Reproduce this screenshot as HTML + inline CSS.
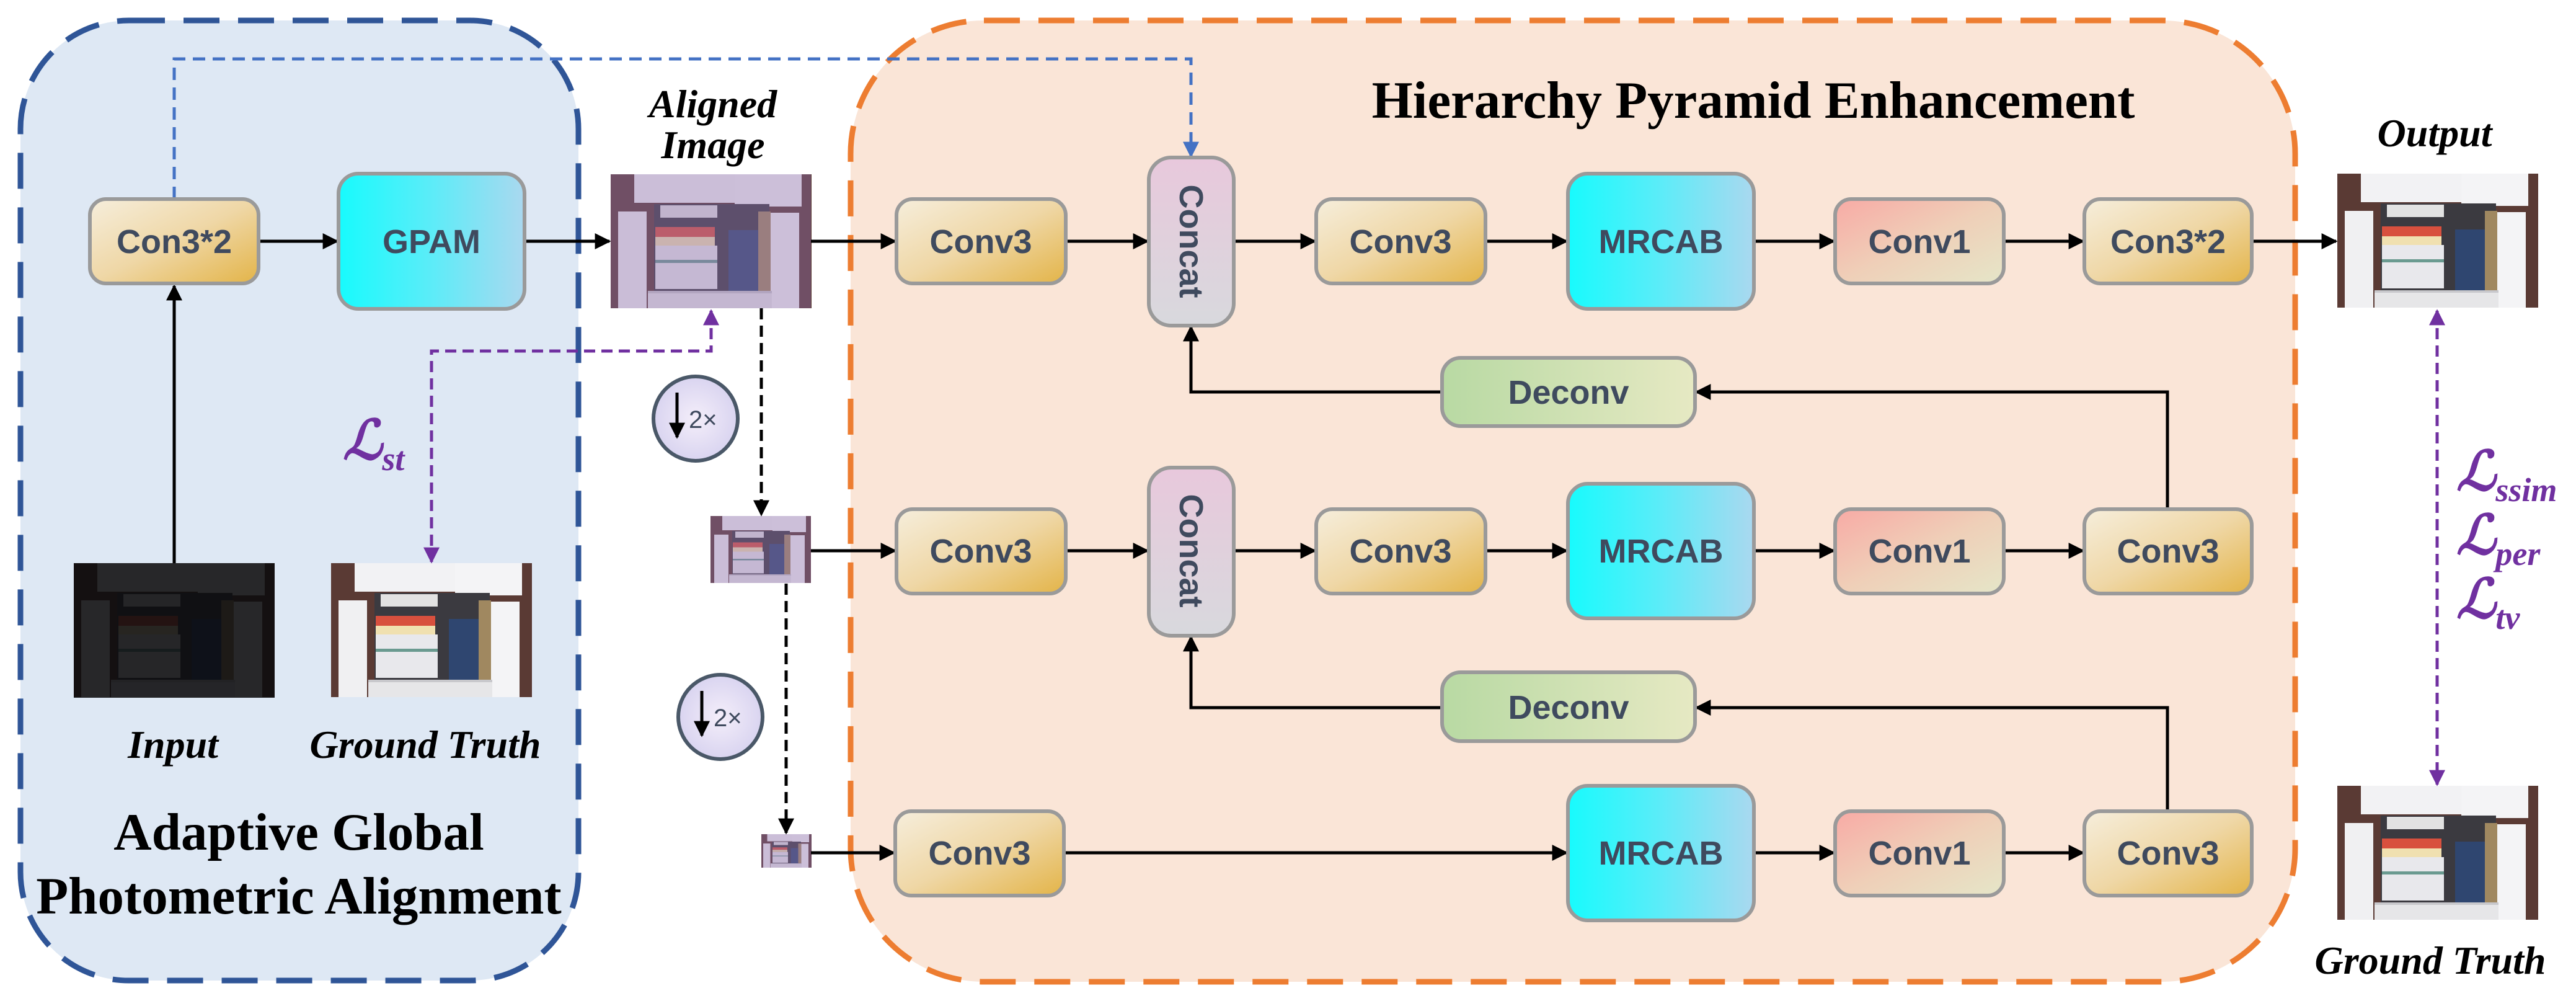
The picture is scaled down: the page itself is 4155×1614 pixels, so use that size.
<!DOCTYPE html>
<html><head><meta charset="utf-8"><style>html,body{margin:0;padding:0;background:#fff}svg{display:block}</style></head>
<body>
<svg width="4155" height="1614" viewBox="0 0 4155 1614" xmlns="http://www.w3.org/2000/svg">
<defs>
<linearGradient id="gold" x1="0" y1="0" x2="1" y2="1"><stop offset="0" stop-color="#f6eedc"/><stop offset="0.5" stop-color="#efd7a6"/><stop offset="1" stop-color="#e3b448"/></linearGradient>
<linearGradient id="cyan" x1="0" y1="0" x2="1" y2="0"><stop offset="0" stop-color="#17fbfd"/><stop offset="0.5" stop-color="#5cecf8"/><stop offset="1" stop-color="#aad8ef"/></linearGradient>
<linearGradient id="pink" x1="0" y1="0" x2="1" y2="1"><stop offset="0" stop-color="#f8aaa5"/><stop offset="0.5" stop-color="#efcfb8"/><stop offset="1" stop-color="#e5e6c8"/></linearGradient>
<linearGradient id="green" x1="0" y1="0" x2="1" y2="0"><stop offset="0" stop-color="#b8d9a3"/><stop offset="1" stop-color="#e6e9c3"/></linearGradient>
<linearGradient id="lav" x1="0" y1="0" x2="0" y2="1"><stop offset="0" stop-color="#e8c8dc"/><stop offset="1" stop-color="#d8d9dd"/></linearGradient>
<radialGradient id="circ"><stop offset="0" stop-color="#f4eefa"/><stop offset="1" stop-color="#d9d4f0"/></radialGradient>
<marker id="a" viewBox="0 0 10 10" refX="9" refY="5" markerWidth="30" markerHeight="26" orient="auto" markerUnits="userSpaceOnUse"><path d="M0,0 L10,5 L0,10 z" fill="#000"/></marker>
<marker id="ap" viewBox="0 0 10 10" refX="9" refY="5" markerWidth="28" markerHeight="26" orient="auto-start-reverse" markerUnits="userSpaceOnUse"><path d="M0,0 L10,5 L0,10 z" fill="#7030a0"/></marker>
<marker id="abl" viewBox="0 0 10 10" refX="9" refY="5" markerWidth="28" markerHeight="26" orient="auto" markerUnits="userSpaceOnUse"><path d="M0,0 L10,5 L0,10 z" fill="#4472c4"/></marker>
<g id="cab">
<rect x="0" y="0" width="324" height="216" fill="#5a3a34"/>
<rect x="38" y="0" width="270" height="46" fill="#f2f2f4"/>
<rect x="200" y="0" width="108" height="52" fill="#f4f4f6"/>
<rect x="12" y="60" width="46" height="156" fill="#f0f0f2"/>
<rect x="258" y="62" width="46" height="154" fill="#f4f4f6"/>
<rect x="70" y="48" width="186" height="150" fill="#3b3a40"/>
<rect x="72" y="85" width="96" height="16" fill="#d8503e"/>
<rect x="72" y="101" width="96" height="14" fill="#f0e0b0"/>
<rect x="72" y="115" width="100" height="70" fill="#e8e8ec"/>
<rect x="72" y="138" width="100" height="5" fill="#6a9a90"/>
<rect x="190" y="90" width="48" height="100" fill="#2f4670"/>
<rect x="238" y="60" width="20" height="130" fill="#a08860"/>
<rect x="80" y="50" width="92" height="20" fill="#e2e2e2"/>
<rect x="60" y="190" width="200" height="26" fill="#e6e6e8"/>
<rect x="60" y="188" width="200" height="4" fill="#c8c8cc"/>
</g>
</defs>

<rect x="33" y="33" width="900" height="1548" rx="175" fill="#dee8f4" stroke="#2f5597" stroke-width="9" stroke-dasharray="58 30"/>
<rect x="1372" y="33" width="2330" height="1550" rx="215" fill="#fae5d7" stroke="#ed7d31" stroke-width="9" stroke-dasharray="58 30"/>

<use href="#cab" x="985" y="281"/>
<rect x="985" y="281" width="323" height="216" fill="#9070b0" opacity="0.4"/>
<use href="#cab" x="119" y="908"/>
<rect x="119" y="908" width="324" height="217" fill="#0a0a0c" opacity="0.88"/>
<use href="#cab" x="534" y="908"/>
<use href="#cab" x="3770" y="280"/>
<use href="#cab" x="3770" y="1267"/>
<g transform="translate(1146,832) scale(0.5)"><use href="#cab"/><rect width="324" height="216" fill="#9070b0" opacity="0.4"/></g>
<g transform="translate(1228,1345) scale(0.25)"><use href="#cab"/><rect width="324" height="216" fill="#9070b0" opacity="0.4"/></g>

<g stroke="#000" stroke-width="5" fill="none">
<line x1="281" y1="908" x2="281" y2="461" marker-end="url(#a)"/>
<line x1="417" y1="389" x2="544" y2="389" marker-end="url(#a)"/>
<line x1="846" y1="389" x2="983" y2="389" marker-end="url(#a)"/>
<line x1="1308" y1="389" x2="1444" y2="389" marker-end="url(#a)"/>
<line x1="1719" y1="389" x2="1851" y2="389" marker-end="url(#a)"/>
<line x1="1990" y1="389" x2="2121" y2="389" marker-end="url(#a)"/>
<line x1="2396" y1="389" x2="2527" y2="389" marker-end="url(#a)"/>
<line x1="2829" y1="389" x2="2958" y2="389" marker-end="url(#a)"/>
<line x1="3232" y1="389" x2="3360" y2="389" marker-end="url(#a)"/>
<line x1="3632" y1="389" x2="3768" y2="389" marker-end="url(#a)"/>

<line x1="1308" y1="888" x2="1444" y2="888" marker-end="url(#a)"/>
<line x1="1719" y1="888" x2="1851" y2="888" marker-end="url(#a)"/>
<line x1="1990" y1="888" x2="2121" y2="888" marker-end="url(#a)"/>
<line x1="2396" y1="888" x2="2527" y2="888" marker-end="url(#a)"/>
<line x1="2829" y1="888" x2="2958" y2="888" marker-end="url(#a)"/>
<line x1="3232" y1="888" x2="3360" y2="888" marker-end="url(#a)"/>

<line x1="1308" y1="1375" x2="1442" y2="1375" marker-end="url(#a)"/>
<line x1="1716" y1="1375" x2="2527" y2="1375" marker-end="url(#a)"/>
<line x1="2829" y1="1375" x2="2958" y2="1375" marker-end="url(#a)"/>
<line x1="3232" y1="1375" x2="3360" y2="1375" marker-end="url(#a)"/>

<polyline points="3496,821 3496,632 2736,632" marker-end="url(#a)"/>
<polyline points="2326,632 1921,632 1921,527" marker-end="url(#a)"/>
<polyline points="3496,1308 3496,1141 2736,1141" marker-end="url(#a)"/>
<polyline points="2326,1141 1921,1141 1921,1027" marker-end="url(#a)"/>

<line x1="1228" y1="497" x2="1228" y2="830" stroke-dasharray="18 10" marker-end="url(#a)"/>
<line x1="1268" y1="941" x2="1268" y2="1343" stroke-dasharray="18 10" marker-end="url(#a)"/>
</g>
<polyline points="281,321 281,95 1921,95 1921,252" fill="none" stroke="#4472c4" stroke-width="5" stroke-dasharray="20 12" marker-end="url(#abl)"/>
<polyline points="1147,501 1147,566 696,566 696,906" fill="none" stroke="#7030a0" stroke-width="5" stroke-dasharray="18 10" marker-start="url(#ap)" marker-end="url(#ap)"/>
<line x1="3931" y1="501" x2="3931" y2="1265" stroke="#7030a0" stroke-width="5" stroke-dasharray="18 10" marker-start="url(#ap)" marker-end="url(#ap)"/>

<g>
<ellipse cx="1122" cy="675" rx="68" ry="68" fill="url(#circ)" stroke="#4a5868" stroke-width="6"/>
<line x1="1092" y1="633" x2="1092" y2="705" stroke="#000" stroke-width="5" marker-end="url(#a)"/>
<text x="1111" y="690" font-family="Liberation Sans, sans-serif" font-size="40" fill="#3f4a5e">2×</text>
<ellipse cx="1162" cy="1156" rx="68" ry="68" fill="url(#circ)" stroke="#4a5868" stroke-width="6"/>
<line x1="1132" y1="1114" x2="1132" y2="1186" stroke="#000" stroke-width="5" marker-end="url(#a)"/>
<text x="1151" y="1171" font-family="Liberation Sans, sans-serif" font-size="40" fill="#3f4a5e">2×</text>
</g>

<g stroke="#9a9a9a" stroke-width="6">
<rect x="145" y="321" width="272" height="136" rx="26" fill="url(#gold)"/>
<rect x="546" y="280" width="300" height="218" rx="32" fill="url(#cyan)"/>
<rect x="1446" y="321" width="273" height="136" rx="26" fill="url(#gold)"/>
<rect x="1853" y="254" width="137" height="271" rx="36" fill="url(#lav)"/>
<rect x="2123" y="321" width="273" height="136" rx="26" fill="url(#gold)"/>
<rect x="2529" y="280" width="300" height="218" rx="32" fill="url(#cyan)"/>
<rect x="2960" y="321" width="272" height="136" rx="26" fill="url(#pink)"/>
<rect x="3362" y="321" width="270" height="136" rx="26" fill="url(#gold)"/>
<rect x="2326" y="577" width="408" height="110" rx="30" fill="url(#green)"/>

<rect x="1446" y="821" width="273" height="136" rx="26" fill="url(#gold)"/>
<rect x="1853" y="754" width="137" height="271" rx="36" fill="url(#lav)"/>
<rect x="2123" y="821" width="273" height="136" rx="26" fill="url(#gold)"/>
<rect x="2529" y="780" width="300" height="217" rx="32" fill="url(#cyan)"/>
<rect x="2960" y="821" width="272" height="136" rx="26" fill="url(#pink)"/>
<rect x="3362" y="821" width="270" height="136" rx="26" fill="url(#gold)"/>
<rect x="2326" y="1084" width="408" height="111" rx="30" fill="url(#green)"/>

<rect x="1444" y="1308" width="272" height="136" rx="26" fill="url(#gold)"/>
<rect x="2529" y="1267" width="300" height="217" rx="32" fill="url(#cyan)"/>
<rect x="2960" y="1308" width="272" height="136" rx="26" fill="url(#pink)"/>
<rect x="3362" y="1308" width="270" height="136" rx="26" fill="url(#gold)"/>
</g>

<g font-family="Liberation Sans, sans-serif" font-weight="bold" font-size="54" fill="#3f4a5e" text-anchor="middle">
<text x="281" y="408">Con3*2</text>
<text x="696" y="408">GPAM</text>
<text x="1582" y="408">Conv3</text>
<text x="2259" y="408">Conv3</text>
<text x="2679" y="408">MRCAB</text>
<text x="3096" y="408">Conv1</text>
<text x="3497" y="408">Con3*2</text>
<text x="2530" y="651">Deconv</text>
<text x="1582" y="907">Conv3</text>
<text x="2259" y="907">Conv3</text>
<text x="2679" y="907">MRCAB</text>
<text x="3096" y="907">Conv1</text>
<text x="3497" y="907">Conv3</text>
<text x="2530" y="1159">Deconv</text>
<text x="1580" y="1394">Conv3</text>
<text x="2679" y="1394">MRCAB</text>
<text x="3096" y="1394">Conv1</text>
<text x="3497" y="1394">Conv3</text>
<text transform="translate(1903,389) rotate(90)">Concat</text>
<text transform="translate(1903,888) rotate(90)">Concat</text>
</g>

<g font-family="Liberation Serif, serif" font-weight="bold" font-style="italic" font-size="64" fill="#000" text-anchor="middle">
<text x="1150" y="189">Aligned</text>
<text x="1150" y="255">Image</text>
<text x="279" y="1222">Input</text>
<text x="686" y="1222">Ground Truth</text>
<text x="3927" y="236">Output</text>
<text x="3920" y="1570">Ground Truth</text>
</g>
<g font-family="Liberation Serif, serif" font-weight="bold" font-size="85" fill="#000" text-anchor="middle">
<text x="482" y="1370">Adaptive Global</text>
<text x="482" y="1473">Photometric Alignment</text>
<text x="2828" y="190">Hierarchy Pyramid Enhancement</text>
</g>
<g font-family="Liberation Serif, serif" font-weight="bold" font-style="italic" fill="#7030a0">
<text x="553" y="740" font-size="88">ℒ<tspan font-size="54" dy="18">st</tspan></text>
<text x="3962" y="790" font-size="88">ℒ<tspan font-size="54" dy="18">ssim</tspan></text>
<text x="3962" y="893" font-size="88">ℒ<tspan font-size="54" dy="18">per</tspan></text>
<text x="3962" y="996" font-size="88">ℒ<tspan font-size="54" dy="18">tv</tspan></text>
</g>
</svg>
</body></html>
